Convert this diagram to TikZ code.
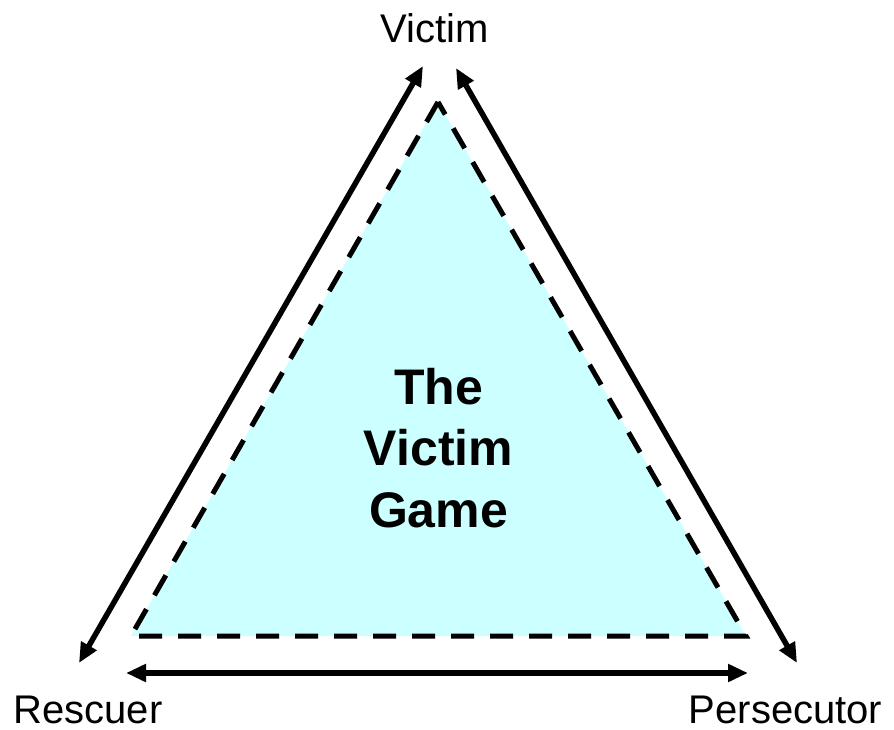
\documentclass[tikz,border=0pt]{standalone}
\usepackage{fontspec}
\setmainfont{Liberation Sans}
\usetikzlibrary{arrows.meta}
\definecolor{gamefill}{RGB}{204,255,255}

\begin{document}
\begin{tikzpicture}[
  x=1pt, y=-1pt,
  role/.style={font=\fontsize{40}{48}\selectfont, anchor=base, inner sep=0pt},
  title/.style={font=\fontsize{50}{61.5}\selectfont\bfseries, align=center, inner sep=0pt},
  arr/.style={{Triangle[length=20pt,width=17pt]}-{Triangle[length=20pt,width=17pt]}, line width=5.5pt},
  tri/.style={fill=gamefill, draw=black, line width=5pt, dash pattern=on 23pt off 16pt},
]
  \useasboundingbox (0,0) rectangle (894,730);
  % triangle corners
  \coordinate (top) at (438,102);
  \coordinate (left) at (131,636);
  \coordinate (right) at (746,636);
  \filldraw[tri] (top) -- (left) -- (right) -- cycle;

  \node[title] (game) at (438.5,448) {The\\Victim\\Game};

  \node[role] (victim) at (435,43) {Victim};
  \node[role] (rescuer) at (88,723) {Rescuer};
  \node[role] (persecutor) at (785.5,723) {Persecutor};

  % arrow ends
  \coordinate (vl) at (423,66);
  \coordinate (rv) at (79,663);
  \coordinate (vr) at (456,68);
  \coordinate (pv) at (797,663);
  \coordinate (rp) at (126,673);
  \coordinate (pr) at (748,673);
  \draw[arr] (vl) -- (rv);
  \draw[arr] (vr) -- (pv);
  \draw[arr] (rp) -- (pr);
\end{tikzpicture}
\end{document}
